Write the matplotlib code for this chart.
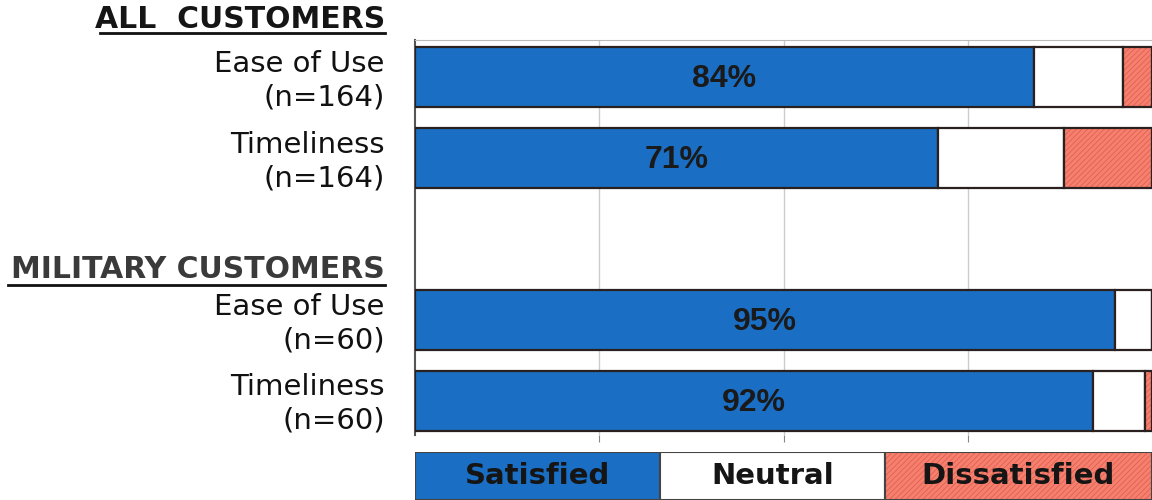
import matplotlib.pyplot as plt
import numpy as np

# data
groups = ["ALL  CUSTOMERS", "MILITARY CUSTOMERS"]
labels = ["Ease of Use\n(n=164)", "Timeliness\n(n=164)", "Ease of Use\n(n=60)", "Timeliness\n(n=60)"]
satisfied = [84, 71, 95, 92]
neutral = [12, 17, 5, 7]
dissatisfied = [4, 12, 0, 1]
legend_names = ["Satisfied", "Neutral", "Dissatisfied"]
legend_widths = [245, 225, 267]  # box widths in legend strip

blue = "#1a6fc4"
salmon = "#f6806f"
hatch_col = "#e2604f"
edge = "#2a2020"

plt.rcParams["hatch.linewidth"] = 0.6

fig = plt.figure(figsize=(11.52, 5.0), dpi=100)
ax = fig.add_axes([415 / 1152, 65 / 500, 737 / 1152, 395 / 500])

ypos = np.array([0, 1, 3, 4])
h = 0.74
sat = np.array(satisfied)
neu = np.array(neutral)
dis = np.array(dissatisfied)

ax.barh(ypos, sat, height=h, color=blue, edgecolor=edge, linewidth=1.6, zorder=3)
ax.barh(ypos, neu, left=sat, height=h, color="white", edgecolor=edge, linewidth=1.6, zorder=3)
ax.barh(ypos, dis, left=sat + neu, height=h, color=salmon, edgecolor=hatch_col,
        hatch="//////", linewidth=0, zorder=3)
ax.barh(ypos, dis, left=sat + neu, height=h, fill=False, edgecolor=edge, linewidth=1.6, zorder=4)

for y, s in zip(ypos, sat):
    ax.text(s / 2, y + 0.02, "%d%%" % s, ha="center", va="center", fontsize=23, fontweight="bold",
            color="#1a1a1a", family=["Liberation Sans Narrow", "Liberation Sans"], zorder=5)

ax.set_xlim(0, 100)
ax.set_ylim(4.42, -0.46)
ax.set_xticks([25, 50, 75])
ax.set_xticklabels([])
ax.tick_params(axis="x", length=5, color="#888888", direction="out")
ax.set_yticks([])
ax.grid(axis="x", color="#cccccc", linewidth=1, zorder=0)
ax.spines["right"].set_visible(False)
ax.spines["bottom"].set_visible(False)
ax.spines["top"].set_color("#bbbbbb")
ax.spines["left"].set_color("#555555")
ax.spines["left"].set_linewidth(1.5)

# category labels, right aligned left of the axes
for y, lab in zip(ypos, labels):
    ax.text(-4.1, y + 0.04, lab, ha="right", va="center", fontsize=21, color="#111111",
            linespacing=1.25, transform=ax.transData, clip_on=False)

# group headers
fig.text(385 / 1152, 1 - 19 / 500, groups[0], ha="right", va="center", fontsize=21.5,
         fontweight="bold", color="#151515")
fig.text(385 / 1152, 1 - 270 / 500, groups[1], ha="right", va="center", fontsize=21.5,
         fontweight="bold", color="#3a3a3a")
for x0, yy in [(100, 33), (8, 285)]:
    fig.add_artist(plt.Line2D([x0 / 1152, 385 / 1152], [1 - yy / 500, 1 - yy / 500],
                              color="#111111", linewidth=2))

# legend strip at the bottom
lax = fig.add_axes([415 / 1152, 0, 737 / 1152, 48 / 500])
lw = np.array(legend_widths)
lleft = np.concatenate([[0], np.cumsum(lw)[:-1]])
lax.barh([0], lw[0], left=lleft[0], height=1, color=blue, edgecolor="#444444", linewidth=1.5)
lax.barh([0], lw[1], left=lleft[1], height=1, color="white", edgecolor="#444444", linewidth=1.5)
lax.barh([0], lw[2], left=lleft[2], height=1, color=salmon, edgecolor=hatch_col, hatch="//////", linewidth=0)
lax.barh([0], lw[2], left=lleft[2], height=1, fill=False, edgecolor="#444444", linewidth=1.5)
for name, l, w in zip(legend_names, lleft, lw):
    lax.text(l + w / 2, 0.0, name, ha="center", va="center", fontsize=21, fontweight="bold",
             color="#151515")
lax.set_xlim(0, sum(legend_widths))
lax.set_ylim(-0.5, 0.5)
lax.axis("off")

fig.savefig("out.png", dpi=100, facecolor="white")
